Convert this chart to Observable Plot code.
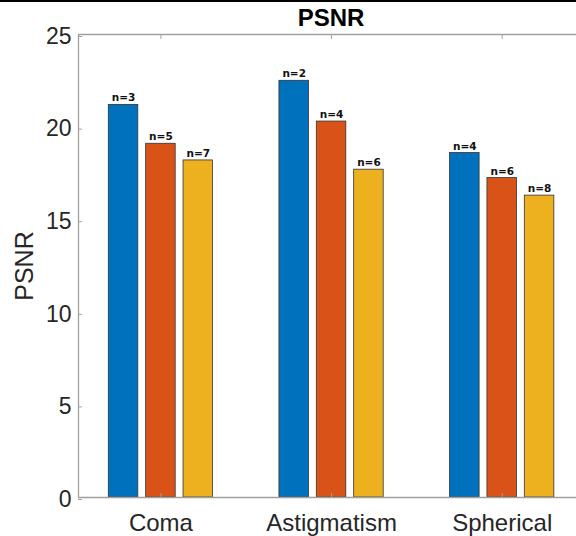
<!DOCTYPE html>
<html><head><meta charset="utf-8">
<script src="https://cdn.jsdelivr.net/npm/d3@7"></script>
<script src="https://cdn.jsdelivr.net/npm/@observablehq/plot@0.6"></script>
<style>
html,body{margin:0;padding:0;background:#fff;overflow:hidden;}
#wrap{position:relative;width:576px;height:536px;overflow:hidden;}
#wrap svg{max-width:none !important;}
#topline{position:absolute;left:0;top:0;width:576px;height:1.5px;background:#000;z-index:2;}
</style></head><body><div id="wrap"><div id="topline"></div></div>
<script>
// ---- data ----
const categories = ["Coma", "Astigmatism", "Spherical"];
const seriesNames = ["S1", "S2", "S3"];
const valuesS1 = [21.2, 22.5, 18.6];
const valuesS2 = [19.1, 20.3, 17.25];
const valuesS3 = [18.2, 17.7, 16.3];
const countsS1 = [3, 2, 4];
const countsS2 = [5, 4, 6];
const countsS3 = [7, 6, 8];
const yTicks = [0, 5, 10, 15, 20, 25];
const titleText = "PSNR";
const yLabel = "PSNR";

// ---- layout / style ----
const colors = ["#0072BD", "#D95319", "#EDB120"];
const groupOffset = 0.219;
const halfBar = 0.0865;
const xDomain = [0.517, 3.494];
const axisGray = "#a0a0a0";
const textColor = "#262626";

const seriesValues = [valuesS1, valuesS2, valuesS3];
const seriesCounts = [countsS1, countsS2, countsS3];
const table = [];
categories.forEach((cat, i) => {
  seriesNames.forEach((s, j) => {
    const xc = i + 1 + (j - 1) * groupOffset;
    table.push({cat, series: s, value: seriesValues[j][i], n: seriesCounts[j][i], xc, x1: xc - halfBar, x2: xc + halfBar});
  });
});

const chart = Plot.plot({
  width: 586,
  height: 536,
  marginLeft: 78,
  marginRight: 0,
  marginTop: 34,
  marginBottom: 39,
  style: {fontFamily: "'Liberation Sans', Arial, Helvetica, sans-serif", background: "#fff", maxWidth: "none"},
  x: {type: "linear", domain: xDomain},
  y: {domain: [0, 25]},
  color: {domain: seriesNames, range: colors},
  marks: [
    Plot.rect(table, {x1: "x1", x2: "x2", y1: 0, y2: "value", fill: "series", stroke: "#333", strokeWidth: 0.8}),
    Plot.text(table, {x: "xc", y: "value", text: d => "n=" + d.n, dy: -3.5, lineAnchor: "bottom", fontSize: 10.5, fontWeight: "bold", fontFamily: "'DejaVu Sans', sans-serif", fill: "#111"}),
    Plot.ruleY([0], {stroke: axisGray, strokeWidth: 1.3}),
    Plot.ruleY([25], {stroke: axisGray, strokeWidth: 1.3}),
    Plot.ruleX([xDomain[0]], {stroke: axisGray, strokeWidth: 1.3}),
    Plot.axisY({ticks: yTicks, tickSize: -4, tickPadding: 11, fontSize: 23, dy: 2, stroke: axisGray, fill: textColor, label: null}),
    Plot.axisX({anchor: "bottom", ticks: [1, 2, 3], tickFormat: d => categories[d - 1], tickSize: -4, tickPadding: 20, fontSize: 24, stroke: axisGray, fill: textColor, label: null}),
    Plot.axisX({anchor: "top", ticks: [1, 2, 3], tickFormat: () => "", tickSize: -4, stroke: axisGray, label: null}),
    Plot.text([titleText], {frameAnchor: "top", dy: -9, dx: -1.5, lineAnchor: "bottom", fontSize: 24, fontWeight: "bold", fill: "#000"}),
    Plot.text([yLabel], {frameAnchor: "left", dx: -54, rotate: -90, lineAnchor: "middle", textAnchor: "middle", fontSize: 25, fill: textColor})
  ]
});
document.getElementById("wrap").appendChild(chart);
</script>
</body></html>
